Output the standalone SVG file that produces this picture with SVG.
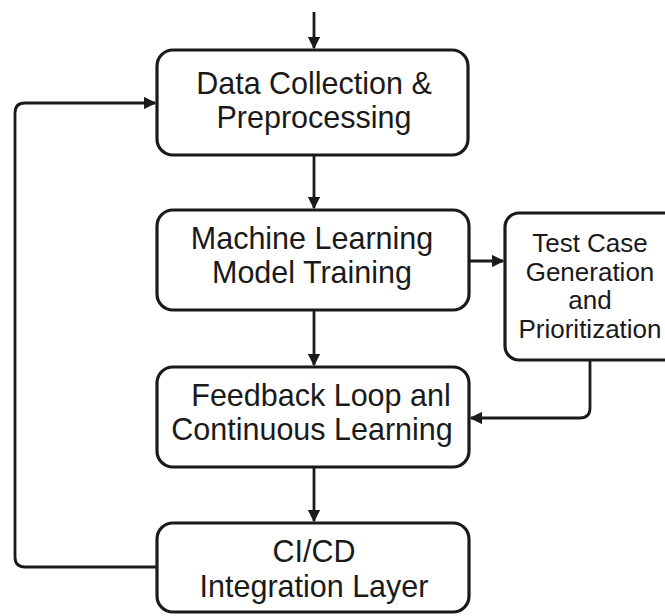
<svg xmlns="http://www.w3.org/2000/svg" width="665" height="616" viewBox="0 0 665 616">
<defs>
<style>
.box{fill:#ffffff;stroke:#1a1a1a;stroke-width:3.2}
.lbl{font-family:"Liberation Sans",Arial,sans-serif;font-size:30.5px;fill:#1a1a1a;text-anchor:middle}
.sm{font-size:26px}
.con{fill:none;stroke:#1a1a1a;stroke-width:2.8;stroke-linejoin:round}
</style>
<marker id="ah" viewBox="0 0 10 10" refX="9" refY="5" markerWidth="4.5" markerHeight="4.5" markerUnits="strokeWidth" orient="auto">
<path d="M0,0 L10,5 L0,10 z" fill="#1a1a1a"/>
</marker>
</defs>
<rect width="665" height="616" fill="#ffffff"/>
<g id="connectors">
<path class="con" d="M314,12 V48" marker-end="url(#ah)"/>
<path class="con" d="M314,155 V208" marker-end="url(#ah)"/>
<path class="con" d="M314,310 V365" marker-end="url(#ah)"/>
<path class="con" d="M314,467 V521" marker-end="url(#ah)"/>
<path class="con" d="M469,261 H503" marker-end="url(#ah)"/>
<path class="con" d="M590,360 V408 Q590,418 580,418 H471" marker-end="url(#ah)"/>
<path class="con" d="M157,567 H25 Q15,567 15,557 V113 Q15,103 25,103 H155" marker-end="url(#ah)"/>
</g>
<g id="n1">
<rect class="box" x="157" y="50" width="311" height="105" rx="16"/>
<text class="lbl" x="314" y="94">Data Collection &amp;</text>
<text class="lbl" x="314" y="128">Preprocessing</text>
</g>
<g id="n2">
<rect class="box" x="157" y="210" width="312" height="100" rx="16"/>
<text class="lbl" x="312" y="249">Machine Learning</text>
<text class="lbl" x="312" y="283">Model Training</text>
</g>
<g id="n3">
<rect class="box" x="505" y="213" width="175" height="147" rx="14"/>
<text class="lbl sm" x="590" y="252">Test Case</text>
<text class="lbl sm" x="590" y="280.5">Generation</text>
<text class="lbl sm" x="590" y="309">and</text>
<text class="lbl sm" x="590" y="337.5">Prioritization</text>
</g>
<g id="n4">
<rect class="box" x="157" y="367" width="312" height="100" rx="16"/>
<text class="lbl" x="321" y="406">Feedback Loop anl</text>
<text class="lbl" x="312" y="440">Continuous Learning</text>
</g>
<g id="n5">
<rect class="box" x="157" y="523" width="312" height="89" rx="16"/>
<text class="lbl" x="314" y="562">CI/CD</text>
<text class="lbl" x="314" y="597">Integration Layer</text>
</g>
</svg>
